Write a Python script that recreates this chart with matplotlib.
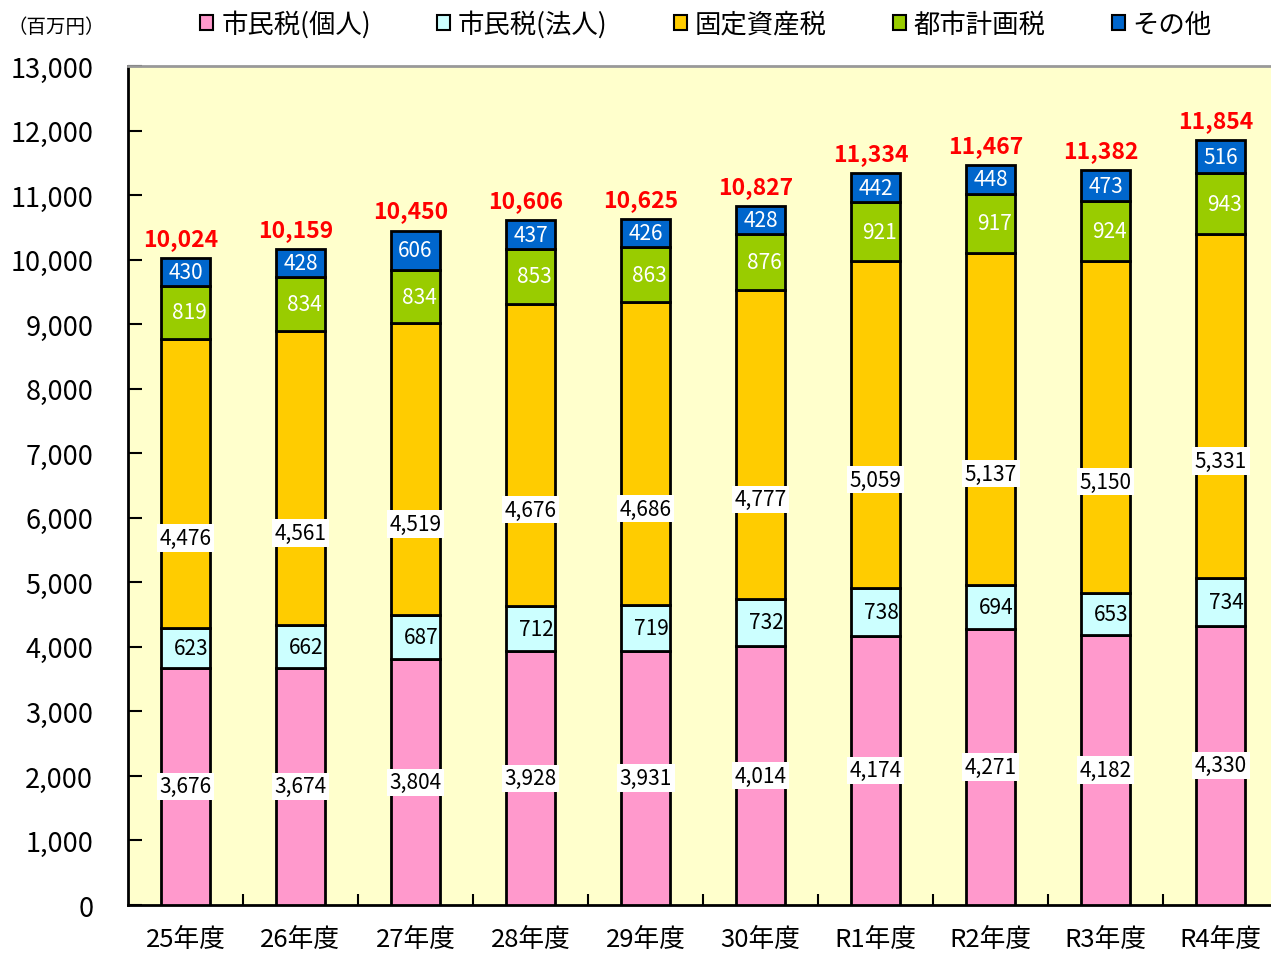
import matplotlib
matplotlib.use("Agg")
import matplotlib.pyplot as plt
import matplotlib.patches as patches
import numpy as np

plt.rcParams['font.family'] = ['Noto Sans CJK JP', 'DejaVu Sans']

# data (百万円)
years = ["25年度", "26年度", "27年度", "28年度", "29年度", "30年度",
         "R1年度", "R2年度", "R3年度", "R4年度"]
kojin = [3676, 3674, 3804, 3928, 3931, 4014, 4174, 4271, 4182, 4330]
hojin = [623, 662, 687, 712, 719, 732, 738, 694, 653, 734]
kotei = [4476, 4561, 4519, 4676, 4686, 4777, 5059, 5137, 5150, 5331]
toshi = [819, 834, 834, 853, 863, 876, 921, 917, 924, 943]
sonota = [430, 428, 606, 437, 426, 428, 442, 448, 473, 516]
totals = [10024, 10159, 10450, 10606, 10625, 10827, 11334, 11467, 11382, 11854]

names = ["市民税(個人)", "市民税(法人)", "固定資産税", "都市計画税", "その他"]
colors = ["#FF99CC", "#CCFFFF", "#FFCC00", "#99CC00", "#0066CC"]
series = [kojin, hojin, kotei, toshi, sonota]

fig = plt.figure(figsize=(12.71, 9.54), dpi=100)
ax = fig.add_axes([0.1007, 0.0503, 0.905, 0.8795])
ax.set_facecolor("#FFFFCC")

x = np.arange(len(years))
w = 0.43
bottom = np.zeros(len(years))
for vals, col in zip(series, colors):
    ax.bar(x, vals, w, bottom=bottom, color=col, edgecolor="black", linewidth=2, zorder=3)
    bottom += np.array(vals)

# value labels
fs = 15
for i in range(len(years)):
    b0 = 0
    ax.text(x[i], b0 + kojin[i] / 2, f"{kojin[i]:,}", ha="center", va="center",
            fontsize=fs, zorder=5,
            bbox=dict(facecolor="white", edgecolor="none", pad=2))
    b0 += kojin[i]
    ax.text(x[i] + 0.05, b0 + hojin[i] / 2, f"{hojin[i]:,}", ha="center", va="center",
            fontsize=fs, zorder=5)
    b0 += hojin[i]
    ax.text(x[i], b0 + kotei[i] / 2 - 850, f"{kotei[i]:,}", ha="center", va="center",
            fontsize=fs, zorder=5,
            bbox=dict(facecolor="white", edgecolor="none", pad=2))
    b0 += kotei[i]
    ax.text(x[i] + 0.03, b0 + toshi[i] / 2, f"{toshi[i]:,}", ha="center", va="center",
            fontsize=fs, color="white", zorder=5)
    b0 += toshi[i]
    ax.text(x[i], b0 + sonota[i] / 2, f"{sonota[i]:,}", ha="center", va="center",
            fontsize=fs, color="white", zorder=5)
    ax.annotate(f"{totals[i]:,}", (x[i] - 0.04, totals[i]), xytext=(0, 6),
                textcoords="offset points", ha="center", va="bottom",
                fontsize=16.5, fontweight="bold", color="#FF0000", zorder=5)

ax.set_xlim(-0.5, len(years) - 0.5)
ax.set_ylim(0, 13000)
ax.set_yticks(range(0, 13001, 1000))
ax.set_yticklabels([f"{v:,}" for v in range(0, 13001, 1000)], fontsize=19.5)
ax.set_xticks(x)
ax.set_xticklabels(years, fontsize=18.5)
ax.tick_params(axis="x", length=0, pad=15)
ax.tick_params(axis="y", direction="in", length=10, width=1.5, pad=25)
ax.set_xticks(np.arange(0.5, len(years) - 0.5), minor=True)
ax.tick_params(axis="x", which="minor", direction="in", length=8, width=1.5)

ax.spines["left"].set_linewidth(2)
ax.spines["bottom"].set_linewidth(2)
ax.spines["top"].set_color("#999999")
ax.spines["top"].set_linewidth(2)
ax.spines["right"].set_visible(False)

fig.text(0.006, 0.971, "（百万円）", fontsize=14, ha="left", va="center")

handles = [patches.Rectangle((0, 0), 1, 1, facecolor=c, edgecolor="black", linewidth=1.5)
           for c in colors]
fig.legend(handles, names, loc="center", bbox_to_anchor=(0.5555, 0.974), ncol=5,
           frameon=False, fontsize=19, handlelength=0.5, handleheight=0.5,
           handletextpad=0.3, columnspacing=2.5)

fig.savefig("out.png", dpi=100)
